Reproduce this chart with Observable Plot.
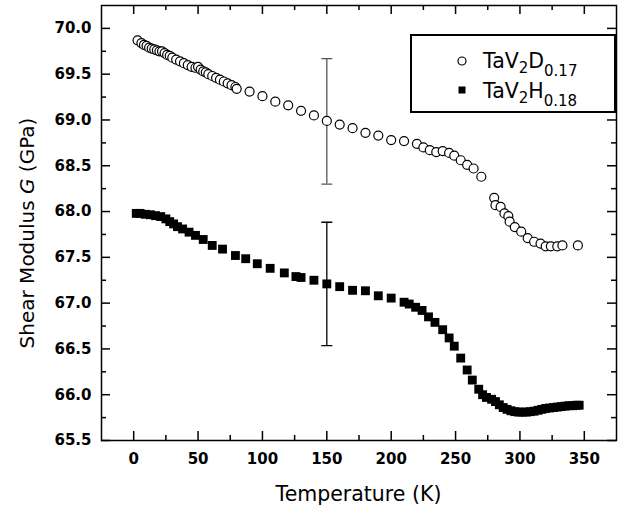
<!DOCTYPE html>
<html><head><meta charset="utf-8">
<script src="https://cdn.jsdelivr.net/npm/d3@7"></script>
<script src="https://cdn.jsdelivr.net/npm/@observablehq/plot@0.6"></script>
<style>body{margin:0;background:#fff}</style>
</head><body><div id="chart"></div>
<script>
// TaV2D0.17 (open circles)
const tempD  = [3,6,8,10,12,14,16,18,20,22,24,26,28,30,33,36,39,42,45,48,50,52,54,56,58,61,64,67,70,73,76,79,80,
  90,100,110,120,130,140,150,160,170,180,190,200,210,220,225,230,235,240,245,249,254,259,264,270,
  280,281,285,288,291,292,296,301,306,311,316,320,324,329,333,345];
const shearD = [69.87,69.84,69.82,69.81,69.79,69.78,69.77,69.76,69.75,69.75,69.73,69.71,69.70,69.68,69.66,69.64,69.62,69.60,69.58,69.57,69.58,69.55,69.53,69.52,69.50,69.48,69.46,69.44,69.42,69.40,69.38,69.36,69.34,
  69.31,69.26,69.20,69.16,69.10,69.05,68.99,68.95,68.91,68.86,68.83,68.78,68.77,68.74,68.70,68.67,68.65,68.66,68.64,68.61,68.56,68.51,68.47,68.38,
  68.15,68.07,68.05,67.98,67.95,67.89,67.83,67.78,67.71,67.67,67.65,67.62,67.62,67.62,67.63,67.63];
// TaV2H0.18 (filled squares)
const tempH  = [2,5,9,13,17,21,25,28,31,34,38,43,48,54,61,69,79,87,96,106,117,126,130,140,150,160,170,180,190,200,
  210,214,219,224,229,234,240,245,249,254,259,263,268,271,274,278,281,284,287,290,293,296,299,302,305,308,311,314,317,320,323,326,329,332,335,338,341,344,346];
const shearH = [67.98,67.98,67.97,67.965,67.955,67.945,67.92,67.89,67.865,67.835,67.81,67.775,67.74,67.695,67.63,67.59,67.52,67.485,67.43,67.38,67.33,67.29,67.28,67.25,67.21,67.18,67.14,67.135,67.08,67.055,
  67.01,66.99,66.955,66.92,66.85,66.79,66.71,66.62,66.53,66.40,66.27,66.16,66.06,66.00,65.97,65.95,65.925,65.89,65.86,65.84,65.825,65.815,65.81,65.81,65.81,65.815,65.82,65.83,65.84,65.85,65.855,65.86,65.865,65.87,65.875,65.88,65.88,65.885,65.885];
// error bars at T = 150 K
const errT = [150, 150];
const errLow = [68.30, 66.535];
const errHigh = [69.67, 67.883];
const errColor = ["#555", "#000"];
// axes and ticks
const xDomain = [-25, 375];
const yDomain = [65.5, 70.25];
const xMajor = [0,50,100,150,200,250,300,350];
const xMinor = [25,75,125,175,225,275,325];
const yMajor = [65.5,66.0,66.5,67.0,67.5,68.0,68.5,69.0,69.5,70.0];
const yMinor = [65.75,66.25,66.75,67.25,67.75,68.25,68.75,69.25,69.75];
const xTitle = "Temperature (K)";
const legendNames = [["TaV","2","D","0.17"],["TaV","2","H","0.18"]];

const D = tempD.map((t,i)=>({t, g: shearD[i]}));
const H = tempH.map((t,i)=>({t, g: shearH[i]}));
const E = errT.map((t,i)=>({t, lo: errLow[i], hi: errHigh[i], c: errColor[i]}));
const caps = E.flatMap(e=>[{t:e.t, v:e.lo, c:e.c},{t:e.t, v:e.hi, c:e.c}]);

const W = 624, Hh = 510, mL = 101, mR = 8, mT = 5, mB = 70;
const fw = W - mL - mR, fh = Hh - mT - mB;
const tick = {stroke: "black", strokeWidth: 1.5};
const MAJ = 9, MIN = 5;
const line = {draw(ctx, l){ ctx.moveTo(0,0); ctx.lineTo(0,-l); }};

const svg = Plot.plot({
  width: W, height: Hh,
  marginLeft: mL, marginRight: mR, marginTop: mT, marginBottom: mB,
  style: {fontFamily: "DejaVu Sans", background: "#fff", color: "#000"},
  x: {domain: xDomain},
  y: {domain: yDomain},
  marks: [
    Plot.axisX(xMajor, {tickSize: 0, tickPadding: 13, fontSize: 15, fontWeight: "bold", label: null, tickFormat: d=>String(d)}),
    Plot.axisY(yMajor, {tickSize: 0, tickPadding: 10, fontSize: 15, fontWeight: "bold", label: null, tickFormat: d=>d.toFixed(1)}),
    // inward ticks: bottom, top, left, right
    Plot.ruleX(xMajor, {x: d=>d, insetTop: fh - MAJ, ...tick}),
    Plot.ruleX(xMinor, {x: d=>d, insetTop: fh - MIN, ...tick}),
    Plot.ruleX(xMajor, {x: d=>d, insetBottom: fh - MAJ, ...tick}),
    Plot.ruleX(xMinor, {x: d=>d, insetBottom: fh - MIN, ...tick}),
    Plot.ruleY(yMajor, {y: d=>d, insetRight: fw - MAJ, ...tick}),
    Plot.ruleY(yMinor, {y: d=>d, insetRight: fw - MIN, ...tick}),
    Plot.ruleY(yMajor, {y: d=>d, insetLeft: fw - MAJ, ...tick}),
    Plot.ruleY(yMinor, {y: d=>d, insetLeft: fw - MIN, ...tick}),
    Plot.ruleX(E, {x: "t", y1: "lo", y2: "hi", stroke: "c", strokeWidth: 1.3}),
    Plot.vector(caps, {x: "t", y: "v", rotate: 90, length: 10, anchor: "middle", shape: line, stroke: "c", strokeWidth: 1.3}),
    Plot.dot(D, {x: "t", y: "g", r: 4.5, stroke: "black", fill: "white", strokeWidth: 1.2}),
    Plot.dot(H, {x: "t", y: "g", r: 5, symbol: "square", fill: "black", stroke: "none"}),
    Plot.frame({stroke: "black", strokeWidth: 1.5})
  ]
});

const s = d3.select(svg);
// axis titles
s.append("text").attr("x", mL + fw/2).attr("y", 501).attr("text-anchor","middle")
  .attr("font-family","DejaVu Sans").attr("font-size", 20.5).attr("fill","#000").text(xTitle);
const yt = s.append("text").attr("transform", `translate(27,233) rotate(-90)`)
  .attr("text-anchor","middle").attr("dy","0.35em").attr("font-family","DejaVu Sans").attr("font-size",20).attr("fill","#000");
yt.append("tspan").text("Shear Modulus ");
yt.append("tspan").attr("font-style","italic").text("G");
yt.append("tspan").text(" (GPa)");
// legend
const lg = s.append("g").attr("text-anchor","start");
lg.append("rect").attr("x",411).attr("y",35).attr("width",204).attr("height",77).attr("fill","#fff").attr("stroke","#000").attr("stroke-width",2);
lg.append("circle").attr("cx",462).attr("cy",61).attr("r",4).attr("fill","#fff").attr("stroke","#000").attr("stroke-width",1.2);
lg.append("rect").attr("x",458.5).attr("y",86.5).attr("width",7).attr("height",7).attr("fill","#000");
legendNames.forEach((parts,i)=>{
  const base = 68 + i*30;
  const t = lg.append("text").attr("x",483).attr("y",base).attr("text-anchor","start").attr("font-family","DejaVu Sans").attr("font-size",20.5).attr("fill","#000");
  t.append("tspan").text(parts[0]);
  t.append("tspan").attr("font-size",15).attr("dy",5).text(parts[1]);
  t.append("tspan").attr("dy",-5).text(parts[2]);
  t.append("tspan").attr("font-size",15).attr("dy",8).text(parts[3]);
});
document.getElementById("chart").appendChild(svg);
</script>
</body></html>
